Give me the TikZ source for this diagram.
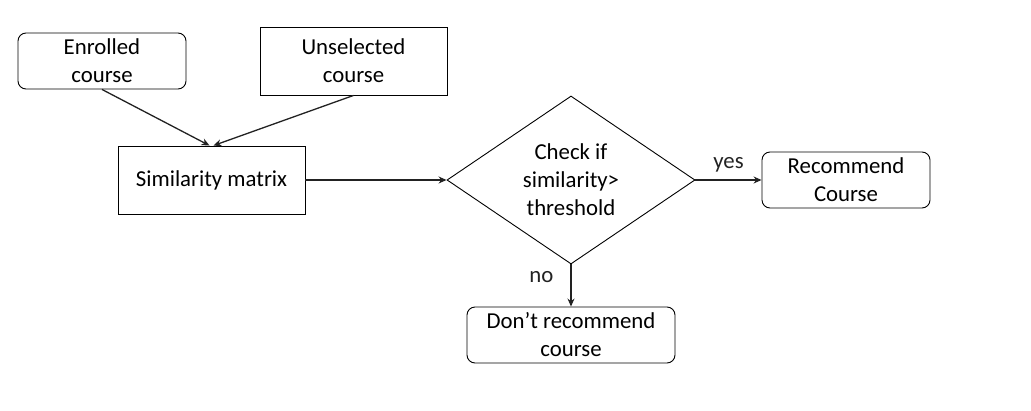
\documentclass[tikz,border=0pt]{standalone}
\usepackage{fontspec}
\setmainfont{Carlito}
\usepackage{tikz}
\usetikzlibrary{arrows.meta, positioning, shapes.geometric}
\definecolor{fline}{HTML}{000000}
\definecolor{farrow}{HTML}{222222}
\tikzset{
  rbox/.style={draw=fline, rounded corners=8pt, line width=0.9pt,
               minimum width=168pt, minimum height=56pt, inner sep=0pt, align=center},
  sbox/.style={draw=fline, line width=0.9pt,
               minimum width=187pt, minimum height=68pt, inner sep=0pt, align=center},
  dbox/.style={diamond, draw=fline, line width=0.9pt, aspect=1.476,
               minimum width=248pt, minimum height=168pt, inner sep=0pt, align=center},
  arr/.style={-{Stealth[length=8pt, width=7pt]}, line width=1.3pt, farrow},
  lbl/.style={inner sep=2pt},
}

\begin{document}
\begin{tikzpicture}[x=1pt, y=-1pt, every node/.style={font=\fontsize{22.8}{28}\selectfont}]
  \useasboundingbox (0,0) rectangle (1031,410);
  \node[rbox] (enrolled) at (102,61) {Enrolled\\course};
  \node[sbox] (unselected) at (353.5,61) {Unselected\\course};
  \node[sbox] (simmat) at (211.5,180) {Similarity matrix};
  \node[dbox] (check) at (571,180) {Check if\\similarity>\\threshold};
  \node[rbox] (rec) at (846,180) {Recommend\\Course};
  \node[rbox, minimum width=208pt] (norec) at (571,335) {Don’t recommend\\course};
  % inputs
  \draw[arr] (enrolled.south) -- ([xshift=-2pt]simmat.north);
  \draw[arr] (unselected.south) -- ([xshift=2pt]simmat.north);
  \draw[arr] (simmat.east) -- (check.west);
  % decision
  \draw[arr] (check.east) -- node[lbl, above=5pt] {yes} (rec.west);
  \draw[arr] (check.south) -- node[lbl, pos=0.3, left=15pt] {no} (norec.north);
\end{tikzpicture}
\end{document}
